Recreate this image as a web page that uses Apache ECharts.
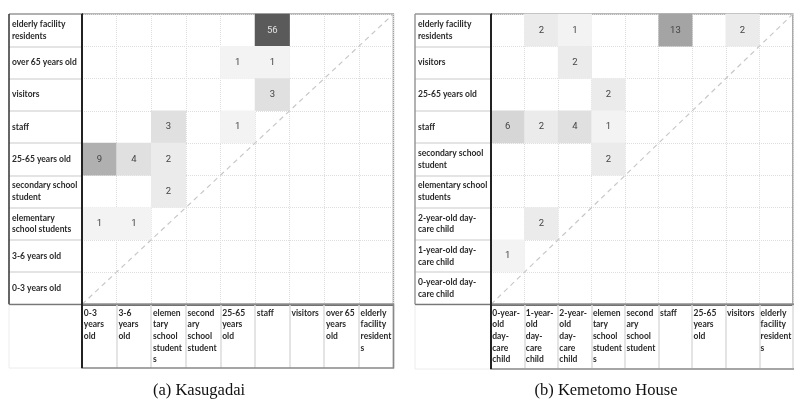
<!DOCTYPE html>
<html><head><meta charset="utf-8">
<script src="https://cdn.jsdelivr.net/npm/echarts@6/dist/echarts.min.js"></script>
<style>html,body{margin:0;padding:0;background:#fff}#c{width:794px;height:399px}</style>
</head><body><div id="c"></div>
<script>
// ---------- data: (a) Kasugadai ----------
const kasugadaiCategories = ['0-3 years old','3-6 years old','elementary school students','secondary school student','25-65 years old','staff','visitors','over 65 years old','elderly facility residents'];
const kasugadaiRowLabels = ['0-3 years old','3-6 years old','elementary\nschool students','secondary school\nstudent','25-65 years old','staff','visitors','over 65 years old','elderly facility\nresidents'];
const kasugadaiColLabels = ['0-3\nyears\nold','3-6\nyears\nold','elemen\ntary\nschool\nstudent\ns','second\nary\nschool\nstudent','25-65\nyears\nold','staff','visitors','over 65\nyears\nold','elderly\nfacility\nresident\ns'];
const kasugadaiFrom = ['staff','25-65 years old','staff','staff','elementary school students','25-65 years old','0-3 years old','3-6 years old','elementary school students','elementary school students','0-3 years old','3-6 years old'];
const kasugadaiTo = ['elderly facility residents','over 65 years old','over 65 years old','visitors','staff','staff','25-65 years old','25-65 years old','25-65 years old','secondary school student','elementary school students','elementary school students'];
const kasugadaiCounts = [56,1,1,3,3,1,9,4,2,2,1,1];
const kasugadaiCaption = '(a) Kasugadai';

// ---------- data: (b) Kemetomo House ----------
const kemetomoCategories = ['0-year-old day-care child','1-year-old day-care child','2-year-old day-care child','elementary school students','secondary school student','staff','25-65 years old','visitors','elderly facility residents'];
const kemetomoRowLabels = ['0-year-old day-\ncare child','1-year-old day-\ncare child','2-year-old day-\ncare child','elementary school\nstudents','secondary school\nstudent','staff','25-65 years old','visitors','elderly facility\nresidents'];
const kemetomoColLabels = ['0-year-\nold\nday-\ncare\nchild','1-year-\nold\nday-\ncare\nchild','2-year-\nold\nday-\ncare\nchild','elemen\ntary\nschool\nstudent\ns','second\nary\nschool\nstudent','staff','25-65\nyears\nold','visitors','elderly\nfacility\nresident\ns'];
const kemetomoFrom = ['1-year-old day-care child','2-year-old day-care child','staff','visitors','2-year-old day-care child','elementary school students','0-year-old day-care child','1-year-old day-care child','2-year-old day-care child','elementary school students','elementary school students','1-year-old day-care child','0-year-old day-care child'];
const kemetomoTo = ['elderly facility residents','elderly facility residents','elderly facility residents','elderly facility residents','visitors','25-65 years old','staff','staff','staff','staff','secondary school student','2-year-old day-care child','1-year-old day-care child'];
const kemetomoCounts = [2,1,13,2,2,2,6,2,4,1,2,2,1];
const kemetomoCaption = '(b) Kemetomo House';

const diagonal = [[0,0],[1,1]];

// ---------- layout ----------
const panels = [
  {cats:kasugadaiCategories, rows:kasugadaiRowLabels, cols:kasugadaiColLabels, from:kasugadaiFrom, to:kasugadaiTo, counts:kasugadaiCounts, caption:kasugadaiCaption,
   labelLeft:9, gl:82, gt:14, cw:34.6, ch:32.26, boxBottom:368, leftBorder:'#333', capX:199},
  {cats:kemetomoCategories, rows:kemetomoRowLabels, cols:kemetomoColLabels, from:kemetomoFrom, to:kemetomoTo, counts:kemetomoCounts, caption:kemetomoCaption,
   labelLeft:415, gl:491, gt:14, cw:34.7, ch:32.26, boxBottom:369, leftBorder:'#999', capX:606}
];

const FONT = 'Lato';
const grid = [], xAxis = [], yAxis = [], series = [], graphic = [];
panels.forEach((p, i) => {
  const gw = p.cw * 9, gh = p.ch * 9;
  grid.push({left:p.gl, top:p.gt, width:gw, height:gh, show:true, borderColor:'#a0a0a0', borderWidth:1.5, containLabel:false});
  xAxis.push({type:'category', gridIndex:i, data:p.cats, position:'bottom',
    axisLine:{show:true, lineStyle:{color:'#444', width:1.5}},
    axisTick:{show:true, interval:0, length:64, lineStyle:{color:'#dcdcdc', width:1.5}},
    axisLabel:{interval:0, margin:3, align:'center', verticalAlign:'top',
      formatter:(v, idx) => '{t|' + p.cols[idx] + '}',
      rich:{t:{width:31, align:'left', fontFamily:FONT, fontSize:8.5, fontWeight:'bold', lineHeight:11.6, color:'#2a2a2a'}}},
    splitLine:{show:true, interval:0, lineStyle:{color:'#dedede', type:'dotted', width:1}}});
  yAxis.push({type:'category', gridIndex:i, data:p.cats,
    axisLine:{show:true, lineStyle:{color:'#222', width:2}},
    axisTick:{show:true, interval:0, length:p.gl - p.labelLeft, lineStyle:{color:'#dcdcdc', width:1.5}},
    axisLabel:{interval:0, margin:p.gl - p.labelLeft - 3, align:'left', verticalAlign:'middle',
      formatter:(v, idx) => p.rows[idx], fontFamily:FONT, fontSize:8.5, fontWeight:'bold', lineHeight:11.8, color:'#2a2a2a'},
    splitLine:{show:true, interval:0, lineStyle:{color:'#dedede', type:'dotted', width:1}}});
  xAxis.push({type:'value', gridIndex:i, min:0, max:1, show:false, splitLine:{show:false}});
  yAxis.push({type:'value', gridIndex:i, min:0, max:1, show:false, splitLine:{show:false}});
  const data = p.counts.map((c, k) => ({
    value:[p.cats.indexOf(p.from[k]), p.cats.indexOf(p.to[k]), c],
    label:{color: c >= 40 ? '#e0e0e0' : '#444'}
  }));
  series.push({type:'heatmap', name:'h'+i, xAxisIndex:2*i, yAxisIndex:2*i, data:data,
    label:{show:true, formatter:q => q.value[2], fontFamily:'Roboto', fontSize:9.5},
    itemStyle:{borderWidth:0}, emphasis:{disabled:true}, z:2});
  series.push({type:'line', xAxisIndex:2*i+1, yAxisIndex:2*i+1, data:diagonal, symbol:'none', silent:true,
    lineStyle:{color:'#c8c8c8', width:1.2, type:[5,4]}, z:3});
  const top = p.gt, bot = p.gt + gh;
  graphic.push(
    {type:'line', z:100, shape:{x1:p.labelLeft, y1:top, x2:p.gl, y2:top}, style:{stroke:'#a0a0a0', lineWidth:1.5}},
    {type:'line', z:100, shape:{x1:p.labelLeft, y1:top, x2:p.labelLeft, y2:bot}, style:{stroke:p.leftBorder, lineWidth:1.5}},
    {type:'line', z:100, shape:{x1:p.labelLeft, y1:bot, x2:p.gl, y2:bot}, style:{stroke:'#777', lineWidth:1.2}},
    {type:'rect', z:99, shape:{x:p.labelLeft, y:bot, width:p.gl - p.labelLeft, height:p.boxBottom - bot}, style:{fill:'none', stroke:'#ececec', lineWidth:1}},
    {type:'rect', z:100, shape:{x:p.gl, y:bot, width:p.cw * 9, height:p.boxBottom - bot}, style:{fill:'none', stroke:'#888', lineWidth:1.5}},
    {type:'line', z:101, shape:{x1:p.gl, y1:top, x2:p.gl, y2:p.boxBottom}, style:{stroke:'#222', lineWidth:2}},
    {type:'text', z:100, x:p.capX, y:391, style:{text:p.caption, fontFamily:'Liberation Serif', fontSize:16.5, fill:'#111', align:'center', verticalAlign:'middle'}}
  );
});

const chart = echarts.init(document.getElementById('c'), null, {renderer:'canvas'});
chart.setOption({
  animation:false,
  backgroundColor:'#fff',
  grid, xAxis, yAxis, series, graphic,
  visualMap:{type:'piecewise', show:false, seriesIndex:[0,2], dimension:2,
    pieces:[
      {value:1, color:'#f3f3f3'}, {value:2, color:'#ebebeb'}, {value:3, color:'#e0e0e0'},
      {value:4, color:'#e0e0e0'}, {value:6, color:'#d6d6d6'}, {value:9, color:'#b0b0b0'},
      {value:13, color:'#a4a4a4'}, {value:56, color:'#5a5a5a'}
    ]}
});
</script></body></html>
